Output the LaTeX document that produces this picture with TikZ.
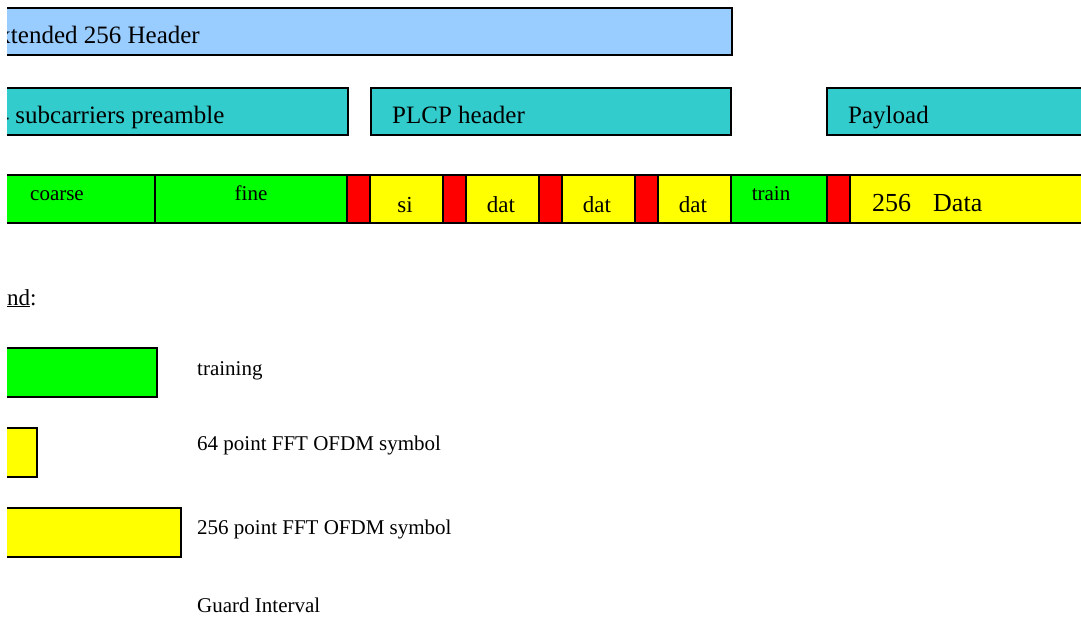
\documentclass[tikz,border=0pt]{standalone}
\usepackage{fontspec}
\setmainfont{Liberation Serif}
\definecolor{hdrblue}{HTML}{99CCFF}
\definecolor{plcpcyan}{HTML}{33CCCC}
\definecolor{trgreen}{HTML}{00FF00}
\definecolor{symyellow}{HTML}{FFFF00}
\definecolor{gired}{HTML}{FF0000}
\tikzset{
  blk/.style={draw=black,line width=1.8pt},
  bigtxt/.style={font=\fontsize{25}{30}\selectfont,inner sep=0pt},
  midtxt/.style={font=\fontsize{23}{28}\selectfont,inner sep=0pt},
  smltxt/.style={font=\fontsize{21}{25}\selectfont,inner sep=0pt},
}
\begin{document}
\begin{tikzpicture}[x=1pt,y=-1pt]
			\useasboundingbox (0,0) rectangle (1081,616);
			\clip (7,0) rectangle (1081,616);
			\def\ya{175}  % top of symbol row
			\def\yb{223}  % bottom of symbol row
			% header rows
			\draw[blk,fill=hdrblue] (-20,8) rectangle (732,55);
			\node[bigtxt,anchor=base west] (ext) at (-17,43) {Extended 256 Header};
			\draw[blk,fill=plcpcyan] (-20,88) rectangle (348,135);
			\node[bigtxt,anchor=base west] (pre) at (-16,123) {64 subcarriers preamble};
			\draw[blk,fill=plcpcyan] (371,88) rectangle (731,135);
			\node[bigtxt,anchor=base west] (plcp) at (392,123) {PLCP header};
			\draw[blk,fill=plcpcyan] (827,88) rectangle (1100,135);
			\node[bigtxt,anchor=base west] (pay) at (848,123) {Payload};
			% symbol row
			\draw[blk,fill=trgreen] (-20,\ya) rectangle (155,\yb);
			\node[smltxt,anchor=base] (crs) at (57,200) {coarse};
			\draw[blk,fill=trgreen] (155,\ya) rectangle (347,\yb);
			\node[smltxt,anchor=base] (fin) at (251,200) {fine};
			\foreach \g/\lbl[count=\i] in {347/si,443/dat,539/dat,635/dat}{
			\draw[blk,fill=gired] (\g,\ya) rectangle (\g+23,\yb);
			\draw[blk,fill=symyellow] (\g+23,\ya) rectangle (\g+96,\yb);
			\node[midtxt,anchor=base] (sym\i) at (\g+58,212) {\lbl};
			}
			\draw[blk,fill=trgreen] (731,\ya) rectangle (827,\yb);
			\node[smltxt,anchor=base] (trn) at (771,200) {train};
			\draw[blk,fill=gired] (827,\ya) rectangle (850,\yb);
			\draw[blk,fill=symyellow] (850,\ya) rectangle (1100,\yb);
			\node[font=\fontsize{26}{31}\selectfont,inner sep=0pt,anchor=base west] (dta) at (872,211) {256\hspace{22pt}Data};
			% legend
			\node[font=\fontsize{23}{28}\selectfont,inner sep=0pt,anchor=base west] (lgd) at (-39,305) {\underline{Le\smash{g}end}:};
			\draw[blk,fill=trgreen] (-20,348) rectangle (157,397);
			\node[smltxt,anchor=base west] (lgtr) at (197,375) {training};
			\draw[blk,fill=symyellow] (-20,428) rectangle (37,477);
			\node[smltxt,anchor=base west] (lgsm) at (197,450) {64 point FFT OFDM symbol};
			\draw[blk,fill=symyellow] (-20,508) rectangle (181,557);
			\node[smltxt,anchor=base west] (lgbg) at (197,534) {256 point FFT OFDM symbol};
			\node[smltxt,anchor=base west] (lggi) at (197,612) {Guard Interval};
		\end{tikzpicture}
\end{document}
